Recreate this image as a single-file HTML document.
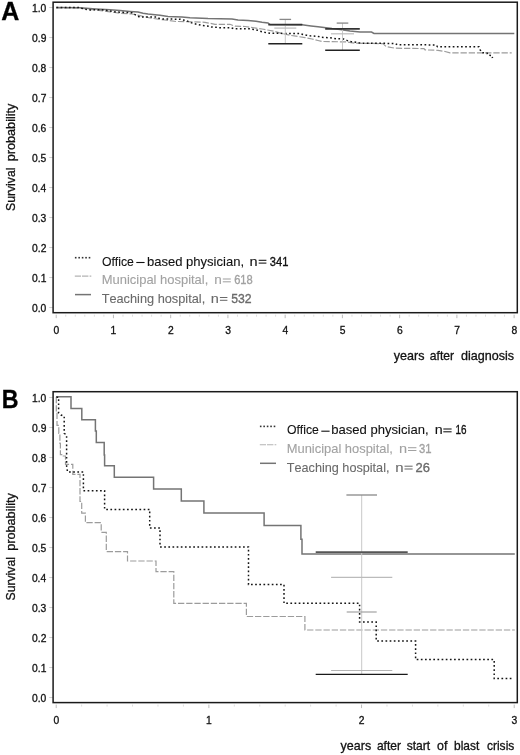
<!DOCTYPE html>
<html><head><meta charset="utf-8"><style>
html,body{margin:0;padding:0;background:#fff;}
body{width:520px;height:755px;overflow:hidden;font-family:"Liberation Sans", sans-serif;}
svg{display:block;filter:blur(0.3px);}

</style></head><body>
<svg width="520" height="755" viewBox="0 0 520 755" font-family='"Liberation Sans", sans-serif' style="font-kerning:none">
<rect width="520" height="755" fill="#fff"/>
<text x="1.15" y="20" font-size="25.4" font-weight="bold" fill="#000" stroke="#000" stroke-width="0.3" textLength="18.05" lengthAdjust="spacingAndGlyphs">A</text>
<text x="1.67" y="408.3" font-size="25.9" font-weight="bold" fill="#000" stroke="#000" stroke-width="0.3" textLength="16.81" lengthAdjust="spacingAndGlyphs">B</text>
<line x1="49.2" y1="307.5" x2="53.1" y2="307.5" stroke="#d0d0d0" stroke-width="1"/>
<text x="31.99" y="311.8" font-size="10.3" fill="#111" stroke="#111" stroke-width="0.3">0.0</text>
<line x1="49.2" y1="277.5" x2="53.1" y2="277.5" stroke="#d0d0d0" stroke-width="1"/>
<text x="32.1" y="281.8" font-size="10.3" fill="#111" stroke="#111" stroke-width="0.3">0.1</text>
<line x1="49.2" y1="247.5" x2="53.1" y2="247.5" stroke="#d0d0d0" stroke-width="1"/>
<text x="32.1" y="251.8" font-size="10.3" fill="#111" stroke="#111" stroke-width="0.3">0.2</text>
<line x1="49.2" y1="217.5" x2="53.1" y2="217.5" stroke="#d0d0d0" stroke-width="1"/>
<text x="31.99" y="221.8" font-size="10.3" fill="#111" stroke="#111" stroke-width="0.3">0.3</text>
<line x1="49.2" y1="187.5" x2="53.1" y2="187.5" stroke="#d0d0d0" stroke-width="1"/>
<text x="31.89" y="191.8" font-size="10.3" fill="#111" stroke="#111" stroke-width="0.3">0.4</text>
<line x1="49.2" y1="157.5" x2="53.1" y2="157.5" stroke="#d0d0d0" stroke-width="1"/>
<text x="31.99" y="161.8" font-size="10.3" fill="#111" stroke="#111" stroke-width="0.3">0.5</text>
<line x1="49.2" y1="127.5" x2="53.1" y2="127.5" stroke="#d0d0d0" stroke-width="1"/>
<text x="31.99" y="131.8" font-size="10.3" fill="#111" stroke="#111" stroke-width="0.3">0.6</text>
<line x1="49.2" y1="97.5" x2="53.1" y2="97.5" stroke="#d0d0d0" stroke-width="1"/>
<text x="32.1" y="101.8" font-size="10.3" fill="#111" stroke="#111" stroke-width="0.3">0.7</text>
<line x1="49.2" y1="67.5" x2="53.1" y2="67.5" stroke="#d0d0d0" stroke-width="1"/>
<text x="31.99" y="71.8" font-size="10.3" fill="#111" stroke="#111" stroke-width="0.3">0.8</text>
<line x1="49.2" y1="37.5" x2="53.1" y2="37.5" stroke="#d0d0d0" stroke-width="1"/>
<text x="32.1" y="41.8" font-size="10.3" fill="#111" stroke="#111" stroke-width="0.3">0.9</text>
<line x1="49.2" y1="7.5" x2="53.1" y2="7.5" stroke="#d0d0d0" stroke-width="1"/>
<text x="31.99" y="11.8" font-size="10.3" fill="#111" stroke="#111" stroke-width="0.3">1.0</text>
<line x1="49.2" y1="697.5" x2="53.1" y2="697.5" stroke="#d0d0d0" stroke-width="1"/>
<text x="31.99" y="701.8" font-size="10.3" fill="#111" stroke="#111" stroke-width="0.3">0.0</text>
<line x1="49.2" y1="667.5" x2="53.1" y2="667.5" stroke="#d0d0d0" stroke-width="1"/>
<text x="32.1" y="671.8" font-size="10.3" fill="#111" stroke="#111" stroke-width="0.3">0.1</text>
<line x1="49.2" y1="637.5" x2="53.1" y2="637.5" stroke="#d0d0d0" stroke-width="1"/>
<text x="32.1" y="641.8" font-size="10.3" fill="#111" stroke="#111" stroke-width="0.3">0.2</text>
<line x1="49.2" y1="607.5" x2="53.1" y2="607.5" stroke="#d0d0d0" stroke-width="1"/>
<text x="31.99" y="611.8" font-size="10.3" fill="#111" stroke="#111" stroke-width="0.3">0.3</text>
<line x1="49.2" y1="577.5" x2="53.1" y2="577.5" stroke="#d0d0d0" stroke-width="1"/>
<text x="31.89" y="581.8" font-size="10.3" fill="#111" stroke="#111" stroke-width="0.3">0.4</text>
<line x1="49.2" y1="547.5" x2="53.1" y2="547.5" stroke="#d0d0d0" stroke-width="1"/>
<text x="31.99" y="551.8" font-size="10.3" fill="#111" stroke="#111" stroke-width="0.3">0.5</text>
<line x1="49.2" y1="517.5" x2="53.1" y2="517.5" stroke="#d0d0d0" stroke-width="1"/>
<text x="31.99" y="521.8" font-size="10.3" fill="#111" stroke="#111" stroke-width="0.3">0.6</text>
<line x1="49.2" y1="487.5" x2="53.1" y2="487.5" stroke="#d0d0d0" stroke-width="1"/>
<text x="32.1" y="491.8" font-size="10.3" fill="#111" stroke="#111" stroke-width="0.3">0.7</text>
<line x1="49.2" y1="457.5" x2="53.1" y2="457.5" stroke="#d0d0d0" stroke-width="1"/>
<text x="31.99" y="461.8" font-size="10.3" fill="#111" stroke="#111" stroke-width="0.3">0.8</text>
<line x1="49.2" y1="427.5" x2="53.1" y2="427.5" stroke="#d0d0d0" stroke-width="1"/>
<text x="32.1" y="431.8" font-size="10.3" fill="#111" stroke="#111" stroke-width="0.3">0.9</text>
<line x1="49.2" y1="397.5" x2="53.1" y2="397.5" stroke="#d0d0d0" stroke-width="1"/>
<text x="31.99" y="401.8" font-size="10.3" fill="#111" stroke="#111" stroke-width="0.3">1.0</text>
<line x1="56.2" y1="314.7" x2="56.2" y2="318.2" stroke="#bdbdbd" stroke-width="1"/>
<text x="53.52" y="333.8" font-size="10.3" fill="#111" stroke="#111" stroke-width="0.3">0</text>
<line x1="65.74" y1="314.7" x2="65.74" y2="316.7" stroke="#dedede" stroke-width="1"/>
<line x1="75.28" y1="314.7" x2="75.28" y2="316.7" stroke="#dedede" stroke-width="1"/>
<line x1="84.82" y1="314.7" x2="84.82" y2="316.7" stroke="#dedede" stroke-width="1"/>
<line x1="94.36" y1="314.7" x2="94.36" y2="316.7" stroke="#dedede" stroke-width="1"/>
<line x1="103.9" y1="314.7" x2="103.9" y2="316.7" stroke="#dedede" stroke-width="1"/>
<line x1="113.44" y1="314.7" x2="113.44" y2="318.2" stroke="#bdbdbd" stroke-width="1"/>
<text x="110.6" y="333.8" font-size="10.3" fill="#111" stroke="#111" stroke-width="0.3">1</text>
<line x1="122.98" y1="314.7" x2="122.98" y2="316.7" stroke="#dedede" stroke-width="1"/>
<line x1="132.52" y1="314.7" x2="132.52" y2="316.7" stroke="#dedede" stroke-width="1"/>
<line x1="142.06" y1="314.7" x2="142.06" y2="316.7" stroke="#dedede" stroke-width="1"/>
<line x1="151.6" y1="314.7" x2="151.6" y2="316.7" stroke="#dedede" stroke-width="1"/>
<line x1="161.14" y1="314.7" x2="161.14" y2="316.7" stroke="#dedede" stroke-width="1"/>
<line x1="170.68" y1="314.7" x2="170.68" y2="318.2" stroke="#bdbdbd" stroke-width="1"/>
<text x="168" y="333.8" font-size="10.3" fill="#111" stroke="#111" stroke-width="0.3">2</text>
<line x1="180.22" y1="314.7" x2="180.22" y2="316.7" stroke="#dedede" stroke-width="1"/>
<line x1="189.76" y1="314.7" x2="189.76" y2="316.7" stroke="#dedede" stroke-width="1"/>
<line x1="199.3" y1="314.7" x2="199.3" y2="316.7" stroke="#dedede" stroke-width="1"/>
<line x1="208.84" y1="314.7" x2="208.84" y2="316.7" stroke="#dedede" stroke-width="1"/>
<line x1="218.38" y1="314.7" x2="218.38" y2="316.7" stroke="#dedede" stroke-width="1"/>
<line x1="227.92" y1="314.7" x2="227.92" y2="318.2" stroke="#bdbdbd" stroke-width="1"/>
<text x="225.29" y="333.8" font-size="10.3" fill="#111" stroke="#111" stroke-width="0.3">3</text>
<line x1="237.46" y1="314.7" x2="237.46" y2="316.7" stroke="#dedede" stroke-width="1"/>
<line x1="247" y1="314.7" x2="247" y2="316.7" stroke="#dedede" stroke-width="1"/>
<line x1="256.54" y1="314.7" x2="256.54" y2="316.7" stroke="#dedede" stroke-width="1"/>
<line x1="266.08" y1="314.7" x2="266.08" y2="316.7" stroke="#dedede" stroke-width="1"/>
<line x1="275.62" y1="314.7" x2="275.62" y2="316.7" stroke="#dedede" stroke-width="1"/>
<line x1="285.16" y1="314.7" x2="285.16" y2="318.2" stroke="#bdbdbd" stroke-width="1"/>
<text x="282.53" y="333.8" font-size="10.3" fill="#111" stroke="#111" stroke-width="0.3">4</text>
<line x1="294.7" y1="314.7" x2="294.7" y2="316.7" stroke="#dedede" stroke-width="1"/>
<line x1="304.24" y1="314.7" x2="304.24" y2="316.7" stroke="#dedede" stroke-width="1"/>
<line x1="313.78" y1="314.7" x2="313.78" y2="316.7" stroke="#dedede" stroke-width="1"/>
<line x1="323.32" y1="314.7" x2="323.32" y2="316.7" stroke="#dedede" stroke-width="1"/>
<line x1="332.86" y1="314.7" x2="332.86" y2="316.7" stroke="#dedede" stroke-width="1"/>
<line x1="342.4" y1="314.7" x2="342.4" y2="318.2" stroke="#bdbdbd" stroke-width="1"/>
<text x="339.77" y="333.8" font-size="10.3" fill="#111" stroke="#111" stroke-width="0.3">5</text>
<line x1="351.94" y1="314.7" x2="351.94" y2="316.7" stroke="#dedede" stroke-width="1"/>
<line x1="361.48" y1="314.7" x2="361.48" y2="316.7" stroke="#dedede" stroke-width="1"/>
<line x1="371.02" y1="314.7" x2="371.02" y2="316.7" stroke="#dedede" stroke-width="1"/>
<line x1="380.56" y1="314.7" x2="380.56" y2="316.7" stroke="#dedede" stroke-width="1"/>
<line x1="390.1" y1="314.7" x2="390.1" y2="316.7" stroke="#dedede" stroke-width="1"/>
<line x1="399.64" y1="314.7" x2="399.64" y2="318.2" stroke="#bdbdbd" stroke-width="1"/>
<text x="396.96" y="333.8" font-size="10.3" fill="#111" stroke="#111" stroke-width="0.3">6</text>
<line x1="409.18" y1="314.7" x2="409.18" y2="316.7" stroke="#dedede" stroke-width="1"/>
<line x1="418.72" y1="314.7" x2="418.72" y2="316.7" stroke="#dedede" stroke-width="1"/>
<line x1="428.26" y1="314.7" x2="428.26" y2="316.7" stroke="#dedede" stroke-width="1"/>
<line x1="437.8" y1="314.7" x2="437.8" y2="316.7" stroke="#dedede" stroke-width="1"/>
<line x1="447.34" y1="314.7" x2="447.34" y2="316.7" stroke="#dedede" stroke-width="1"/>
<line x1="456.88" y1="314.7" x2="456.88" y2="318.2" stroke="#bdbdbd" stroke-width="1"/>
<text x="454.2" y="333.8" font-size="10.3" fill="#111" stroke="#111" stroke-width="0.3">7</text>
<line x1="466.42" y1="314.7" x2="466.42" y2="316.7" stroke="#dedede" stroke-width="1"/>
<line x1="475.96" y1="314.7" x2="475.96" y2="316.7" stroke="#dedede" stroke-width="1"/>
<line x1="485.5" y1="314.7" x2="485.5" y2="316.7" stroke="#dedede" stroke-width="1"/>
<line x1="495.04" y1="314.7" x2="495.04" y2="316.7" stroke="#dedede" stroke-width="1"/>
<line x1="504.58" y1="314.7" x2="504.58" y2="316.7" stroke="#dedede" stroke-width="1"/>
<line x1="514.12" y1="314.7" x2="514.12" y2="318.2" stroke="#bdbdbd" stroke-width="1"/>
<text x="511.49" y="333.8" font-size="10.3" fill="#111" stroke="#111" stroke-width="0.3">8</text>
<line x1="56.2" y1="704.6" x2="56.2" y2="708.1" stroke="#bdbdbd" stroke-width="1"/>
<text x="53.52" y="724" font-size="10.3" fill="#111" stroke="#111" stroke-width="0.3">0</text>
<line x1="81.64" y1="704.6" x2="81.64" y2="706.6" stroke="#dedede" stroke-width="1"/>
<line x1="107.09" y1="704.6" x2="107.09" y2="706.6" stroke="#dedede" stroke-width="1"/>
<line x1="132.53" y1="704.6" x2="132.53" y2="706.6" stroke="#dedede" stroke-width="1"/>
<line x1="157.98" y1="704.6" x2="157.98" y2="706.6" stroke="#dedede" stroke-width="1"/>
<line x1="183.42" y1="704.6" x2="183.42" y2="706.6" stroke="#dedede" stroke-width="1"/>
<line x1="208.87" y1="704.6" x2="208.87" y2="708.1" stroke="#bdbdbd" stroke-width="1"/>
<text x="206.03" y="724" font-size="10.3" fill="#111" stroke="#111" stroke-width="0.3">1</text>
<line x1="234.31" y1="704.6" x2="234.31" y2="706.6" stroke="#dedede" stroke-width="1"/>
<line x1="259.76" y1="704.6" x2="259.76" y2="706.6" stroke="#dedede" stroke-width="1"/>
<line x1="285.2" y1="704.6" x2="285.2" y2="706.6" stroke="#dedede" stroke-width="1"/>
<line x1="310.65" y1="704.6" x2="310.65" y2="706.6" stroke="#dedede" stroke-width="1"/>
<line x1="336.09" y1="704.6" x2="336.09" y2="706.6" stroke="#dedede" stroke-width="1"/>
<line x1="361.54" y1="704.6" x2="361.54" y2="708.1" stroke="#bdbdbd" stroke-width="1"/>
<text x="358.86" y="724" font-size="10.3" fill="#111" stroke="#111" stroke-width="0.3">2</text>
<line x1="386.98" y1="704.6" x2="386.98" y2="706.6" stroke="#dedede" stroke-width="1"/>
<line x1="412.43" y1="704.6" x2="412.43" y2="706.6" stroke="#dedede" stroke-width="1"/>
<line x1="437.87" y1="704.6" x2="437.87" y2="706.6" stroke="#dedede" stroke-width="1"/>
<line x1="463.32" y1="704.6" x2="463.32" y2="706.6" stroke="#dedede" stroke-width="1"/>
<line x1="488.76" y1="704.6" x2="488.76" y2="706.6" stroke="#dedede" stroke-width="1"/>
<line x1="514.21" y1="704.6" x2="514.21" y2="708.1" stroke="#bdbdbd" stroke-width="1"/>
<text x="511.58" y="724" font-size="10.3" fill="#111" stroke="#111" stroke-width="0.3">3</text>
<text transform="translate(15.3,210.4) rotate(-90)" x="-0.61" y="0" font-size="12.6" fill="#111" stroke="#111" stroke-width="0.3" textLength="43.43" lengthAdjust="spacingAndGlyphs">Survival</text>
<text transform="translate(15.3,160.4) rotate(-90)" x="-0.89" y="0" font-size="12.6" fill="#111" stroke="#111" stroke-width="0.3" textLength="57.69" lengthAdjust="spacingAndGlyphs">probability</text>
<text transform="translate(15.3,599.9) rotate(-90)" x="-0.61" y="0" font-size="12.6" fill="#111" stroke="#111" stroke-width="0.3" textLength="43.43" lengthAdjust="spacingAndGlyphs">Survival</text>
<text transform="translate(15.3,549.9) rotate(-90)" x="-0.89" y="0" font-size="12.6" fill="#111" stroke="#111" stroke-width="0.3" textLength="57.69" lengthAdjust="spacingAndGlyphs">probability</text>
<text x="393.8" y="360" font-size="12.6" fill="#111" stroke="#111" stroke-width="0.3" textLength="30.64" lengthAdjust="spacingAndGlyphs">years</text>
<text x="429.82" y="360" font-size="12.6" fill="#111" stroke="#111" stroke-width="0.3" textLength="24.24" lengthAdjust="spacingAndGlyphs">after</text>
<text x="461.1" y="360" font-size="12.6" fill="#111" stroke="#111" stroke-width="0.3" textLength="53.04" lengthAdjust="spacingAndGlyphs">diagnosis</text>
<text x="340.6" y="750.3" font-size="12.6" fill="#111" stroke="#111" stroke-width="0.3" textLength="30.54" lengthAdjust="spacingAndGlyphs">years</text>
<text x="376.92" y="750.3" font-size="12.6" fill="#111" stroke="#111" stroke-width="0.3" textLength="24.03" lengthAdjust="spacingAndGlyphs">after</text>
<text x="406.64" y="750.3" font-size="12.6" fill="#111" stroke="#111" stroke-width="0.3" textLength="23.52" lengthAdjust="spacingAndGlyphs">start</text>
<text x="437.1" y="750.3" font-size="12.6" fill="#111" stroke="#111" stroke-width="0.3" textLength="10.35" lengthAdjust="spacingAndGlyphs">of</text>
<text x="454.06" y="750.3" font-size="12.6" fill="#111" stroke="#111" stroke-width="0.3" textLength="25.27" lengthAdjust="spacingAndGlyphs">blast</text>
<text x="486.92" y="750.3" font-size="12.6" fill="#111" stroke="#111" stroke-width="0.3" textLength="27.43" lengthAdjust="spacingAndGlyphs">crisis</text>
<path d="M56,7.8 L80,8 L90,9.3 L110,11.8 L120,13.2 L132,14 L140,15.6 L150,18 L165,20 L176,21.5 L185,21.6 L205,22.3 L215,24.3 L230,24.3 L235,26.2 L245,26.5 L262,29 L275,31.5 L282,33.5 L290,35.3 L296,36.2 L305,37.6 L312,39 L318,40.5 L322,41.5 L346,41.9 L355,43.2 L383,43.6 L386,46.5 L395,48.2 L424,48.6 L425,49.9 L438,50.3 L445,51.5 L450,52.8 L511.7,52.8" stroke="#9c9c9c" stroke-width="1.2" stroke-dasharray="6.3 1.9" fill="none"/>
<path d="M56,7.6 L80,7.8 L96,8.9 L110,9.7 L120,10.5 L130,11.4 L138,12.1 L143,13.2 L148,14.1 L155,14.7 L160,15.2 L168,16.6 L182,17.1 L190,17.7 L208,18.6 L232,18.9 L238,20.1 L248,20.5 L256,21.3 L262,22.3 L268,23 L270,24.5 L302,24.8 L311,26 L318,26.8 L324,27.4 L332,28.5 L340,29.4 L350,31 L360,32 L371.5,32.1 L374,33.5 L514.3,33.6" stroke="#747474" stroke-width="1.5" fill="none"/>
<path d="M56.5,7.4 L78.5,7.4 L81,8.2 L84.3,8.9 L88,9.9 L101,9.8 L105,10.1 L108,10.8 L112,11.4 L116,12 L124,12.4 L128,12.4 L132,12.8 L134.7,14.4 L137.4,15.9 L139.7,17.1 L157,17 L159,18.2 L163,19 L180,19.2 L183,19.9 L186.5,20.7 L190.8,22.6 L194.6,23.8 L197.7,24.5 L201.5,25.3 L208.8,26.2 L211.5,27 L216,27.2 L219,27.8 L231,27.8 L234,28.8 L250,28.8 L253.7,29.4 L257.5,30.2 L260.2,31.3 L263.3,32.1 L266.8,32.8 L270.2,33.3 L300,33.5 L303,34.5 L306.3,35.2 L310.2,35.8 L318,36.4 L321.3,37.3 L330,37.8 L333,38.3 L337,38.8 L343.5,38.9 L347,40.4 L350.8,41.5 L354.3,41.9 L357.8,42.7 L361.2,43.3 L395,43.4 L397.3,44.8 L436,44.9 L437.5,46.7 L479,46.8 L480,49.6 L482,52.6 L487,53 L488,55.1 L492,55.5 L492.5,58" stroke="#151515" stroke-width="1.5" stroke-dasharray="1.7 2.45" fill="none"/>
<line x1="285.3" y1="19.4" x2="285.3" y2="43.7" stroke="#c8c8c8" stroke-width="1"/>
<line x1="279.5" y1="19.4" x2="291.1" y2="19.4" stroke="#888" stroke-width="1.3"/>
<line x1="268.3" y1="24.6" x2="302.3" y2="24.6" stroke="#333" stroke-width="1.6"/>
<line x1="274.3" y1="28.1" x2="296.3" y2="28.1" stroke="#bbb" stroke-width="1.2"/>
<line x1="268.3" y1="43.7" x2="302.3" y2="43.7" stroke="#222" stroke-width="1.6"/>
<line x1="342.5" y1="23.1" x2="342.5" y2="50.3" stroke="#c8c8c8" stroke-width="1"/>
<line x1="336.7" y1="23.1" x2="348.3" y2="23.1" stroke="#888" stroke-width="1.3"/>
<line x1="325.2" y1="28.9" x2="359.8" y2="28.9" stroke="#333" stroke-width="1.6"/>
<line x1="331" y1="33.8" x2="354" y2="33.8" stroke="#bbb" stroke-width="1.2"/>
<line x1="325.2" y1="50.3" x2="359.8" y2="50.3" stroke="#222" stroke-width="1.6"/>
<path d="M56.3,397 V413 H57 V425.4 H58.8 V433.3 H59.9 V443.4 H60.4 V454.7 H63.3 V456 H65.5 V464.3 H72.8 V474.3 H80 V501.5 H81.7 V513.2 H85.4 V522.7 H101.2 V532.3 H106.3 V551.6 H127.5 V561 H156 V571.7 H173.8 V603.3 H246.4 V616.5 H304.9 V630 H514.8" stroke="#9c9c9c" stroke-width="1.2" stroke-dasharray="6.3 1.9" fill="none"/>
<path d="M56,396.8 H71 V408.4 H81.8 V419.8 H95.4 V431 H96.3 V442.6 H104.2 V455 H104.6 V465.8 H114.3 V477.3 H153.6 V488.9 H181.3 V500.9 H203.9 V513.1 H264.1 V525.5 H300.9 V539.3 H302 V554 H514.8" stroke="#747474" stroke-width="1.5" fill="none"/>
<path d="M56.5,397.2 H58.6 V413 L61,415 L64.2,416.2 V433.3 L66.6,435 V466 L67.5,471.9 H83.4 V490.7 H104.6 V509.4 H149.7 V528 H160 V546.9 H248.5 V584.6 H284 V603.3 H359.6 V622 H376.2 V641 H415.6 V659.6 H494.2 V678.6 H513" stroke="#151515" stroke-width="1.5" stroke-dasharray="1.7 2.45" fill="none"/>
<line x1="361.7" y1="495" x2="361.7" y2="674.4" stroke="#c8c8c8" stroke-width="1"/>
<line x1="346.4" y1="495" x2="377" y2="495" stroke="#888" stroke-width="1.3"/>
<line x1="315.7" y1="552.2" x2="407.7" y2="552.2" stroke="#555" stroke-width="1.8"/>
<line x1="331.1" y1="577.4" x2="392.3" y2="577.4" stroke="#bbb" stroke-width="1.2"/>
<line x1="346.7" y1="612" x2="376.7" y2="612" stroke="#9a9a9a" stroke-width="1.1"/>
<line x1="331.1" y1="670.5" x2="392.3" y2="670.5" stroke="#b4b4b4" stroke-width="1.1"/>
<line x1="315.7" y1="674.4" x2="407.7" y2="674.4" stroke="#1a1a1a" stroke-width="1.25"/>
<rect x="74.9" y="256.9" width="1.6" height="1.6" fill="#333"/>
<rect x="78.35" y="256.9" width="1.6" height="1.6" fill="#333"/>
<rect x="81.8" y="256.9" width="1.6" height="1.6" fill="#333"/>
<rect x="85.25" y="256.9" width="1.6" height="1.6" fill="#333"/>
<rect x="88.7" y="256.9" width="1.6" height="1.6" fill="#333"/>
<path d="M74.8,276.1 H81 M82,276.1 H88.4 M89.6,276.1 H91.3" stroke="#b4b4b4" stroke-width="1.1" fill="none"/>
<path d="M75,294.6 H91" stroke="#747474" stroke-width="1.5" fill="none"/>
<text x="101.89" y="265.6" font-size="13.2" fill="#111" stroke="#111" stroke-width="0.1" textLength="32.03" lengthAdjust="spacingAndGlyphs">Office</text>
<line x1="136.3" y1="262.5" x2="144.6" y2="262.5" stroke="#111" stroke-width="1.1"/>
<text x="146.89" y="265.6" font-size="13.2" fill="#111" stroke="#111" stroke-width="0.1" textLength="97.18" lengthAdjust="spacingAndGlyphs">based physician,</text>
<text x="249.48" y="265.6" font-size="13.2" fill="#111" stroke="#111" stroke-width="0.1" textLength="8.08" lengthAdjust="spacingAndGlyphs">n</text>
<line x1="258.7" y1="260.3" x2="266.4" y2="260.3" stroke="#111" stroke-width="1.05"/><line x1="258.7" y1="263.1" x2="266.4" y2="263.1" stroke="#111" stroke-width="1.05"/>
<text x="269.85" y="265.6" font-size="13.2" fill="#111" stroke="#111" stroke-width="0.35" textLength="18.59" lengthAdjust="spacingAndGlyphs">341</text>
<text x="101.76" y="284.3" font-size="13.2" fill="#a2a2a2" stroke="#a2a2a2" stroke-width="0.1" textLength="106.56" lengthAdjust="spacingAndGlyphs">Municipal hospital,</text>
<text x="214.35" y="284.3" font-size="13.2" fill="#a2a2a2" stroke="#a2a2a2" stroke-width="0.1" textLength="7.55" lengthAdjust="spacingAndGlyphs">n</text>
<line x1="222.8" y1="279" x2="230.8" y2="279" stroke="#a2a2a2" stroke-width="1.05"/><line x1="222.8" y1="281.8" x2="230.8" y2="281.8" stroke="#a2a2a2" stroke-width="1.05"/>
<text x="234.14" y="284.3" font-size="13.2" fill="#a2a2a2" stroke="#a2a2a2" stroke-width="0.35" textLength="18.6" lengthAdjust="spacingAndGlyphs">618</text>
<text x="101.64" y="302.8" font-size="13.2" fill="#6a6a6a" stroke="#6a6a6a" stroke-width="0.1" textLength="103.56" lengthAdjust="spacingAndGlyphs">Teaching hospital,</text>
<text x="210.78" y="302.8" font-size="13.2" fill="#6a6a6a" stroke="#6a6a6a" stroke-width="0.1" textLength="8.08" lengthAdjust="spacingAndGlyphs">n</text>
<line x1="219.9" y1="297.5" x2="227.4" y2="297.5" stroke="#6a6a6a" stroke-width="1.05"/><line x1="219.9" y1="300.3" x2="227.4" y2="300.3" stroke="#6a6a6a" stroke-width="1.05"/>
<text x="231.21" y="302.8" font-size="13.2" fill="#6a6a6a" stroke="#6a6a6a" stroke-width="0.35" textLength="20.38" lengthAdjust="spacingAndGlyphs">532</text>
<rect x="259.9" y="425.6" width="1.6" height="1.6" fill="#333"/>
<rect x="263.35" y="425.6" width="1.6" height="1.6" fill="#333"/>
<rect x="266.8" y="425.6" width="1.6" height="1.6" fill="#333"/>
<rect x="270.25" y="425.6" width="1.6" height="1.6" fill="#333"/>
<rect x="273.7" y="425.6" width="1.6" height="1.6" fill="#333"/>
<path d="M259.8,444.8 H266 M267,444.8 H273.4 M274.6,444.8 H276.3" stroke="#b4b4b4" stroke-width="1.1" fill="none"/>
<path d="M260,463.3 H276" stroke="#747474" stroke-width="1.5" fill="none"/>
<text x="286.89" y="434.3" font-size="13.2" fill="#111" stroke="#111" stroke-width="0.1" textLength="32.03" lengthAdjust="spacingAndGlyphs">Office</text>
<line x1="321.3" y1="431.2" x2="329.6" y2="431.2" stroke="#111" stroke-width="1.1"/>
<text x="331.29" y="434.3" font-size="13.2" fill="#111" stroke="#111" stroke-width="0.1" textLength="97.28" lengthAdjust="spacingAndGlyphs">based physician,</text>
<text x="434.8" y="434.3" font-size="13.2" fill="#111" stroke="#111" stroke-width="0.1" textLength="7.95" lengthAdjust="spacingAndGlyphs">n</text>
<line x1="443.3" y1="429" x2="451.6" y2="429" stroke="#111" stroke-width="1.05"/><line x1="443.3" y1="431.8" x2="451.6" y2="431.8" stroke="#111" stroke-width="1.05"/>
<text x="455.41" y="434.3" font-size="13.2" fill="#111" stroke="#111" stroke-width="0.35" textLength="11.01" lengthAdjust="spacingAndGlyphs">16</text>
<text x="286.77" y="453" font-size="13.2" fill="#a2a2a2" stroke="#a2a2a2" stroke-width="0.1" textLength="106.15" lengthAdjust="spacingAndGlyphs">Municipal hospital,</text>
<text x="399.08" y="453" font-size="13.2" fill="#a2a2a2" stroke="#a2a2a2" stroke-width="0.1" textLength="8.08" lengthAdjust="spacingAndGlyphs">n</text>
<line x1="408" y1="447.7" x2="416.4" y2="447.7" stroke="#a2a2a2" stroke-width="1.05"/><line x1="408" y1="450.5" x2="416.4" y2="450.5" stroke="#a2a2a2" stroke-width="1.05"/>
<text x="419.05" y="453" font-size="13.2" fill="#a2a2a2" stroke="#a2a2a2" stroke-width="0.35" textLength="12.54" lengthAdjust="spacingAndGlyphs">31</text>
<text x="286.75" y="471.5" font-size="13.2" fill="#6a6a6a" stroke="#6a6a6a" stroke-width="0.1" textLength="102.75" lengthAdjust="spacingAndGlyphs">Teaching hospital,</text>
<text x="395.35" y="471.5" font-size="13.2" fill="#6a6a6a" stroke="#6a6a6a" stroke-width="0.1" textLength="8.34" lengthAdjust="spacingAndGlyphs">n</text>
<line x1="404.5" y1="466.2" x2="412.6" y2="466.2" stroke="#6a6a6a" stroke-width="1.05"/><line x1="404.5" y1="469" x2="412.6" y2="469" stroke="#6a6a6a" stroke-width="1.05"/>
<text x="415.45" y="471.5" font-size="13.2" fill="#6a6a6a" stroke="#6a6a6a" stroke-width="0.35" textLength="14.4" lengthAdjust="spacingAndGlyphs">26</text>
<rect x="53.1" y="2.2" width="464.2" height="310.5" fill="none" stroke="#1a1a1a" stroke-width="1.5"/>
<rect x="53.1" y="391.7" width="464.2" height="310.9" fill="none" stroke="#1a1a1a" stroke-width="1.5"/>
</svg>
</body></html>
